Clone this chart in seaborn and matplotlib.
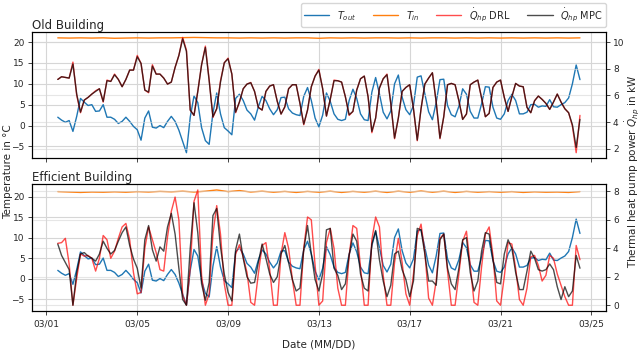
import matplotlib
matplotlib.use("Agg")
import matplotlib.pyplot as plt
import matplotlib.dates as mdates
import pandas as pd
import seaborn as sns

# outdoor temperature in degC, every 4 h from 03/01 12:00
t_out = [
    2.0, 1.3, 0.8, 1.2, -1.4, 2.2,
    6.5, 5.6, 4.8, 5.0, 3.4, 3.5,
    5.0, 2.0, 2.0, 1.5, 0.5, 1.0,
    2.0, 1.0, -0.2, -1.0, -3.5, 1.8,
    3.5, -0.4, -0.6, 0.0, -0.5, 1.0,
    2.2, 1.0, -1.1, -3.8, -6.5, 2.0,
    7.1, 5.5, -0.5, -3.6, -4.5, 3.0,
    7.8, 2.8, -0.5, -1.3, -2.2, 6.5,
    7.5, 6.0, 3.7, 2.8, 1.3, 4.5,
    7.0, 6.0, 4.0, 2.6, 3.8, 6.7,
    6.8, 4.0, 3.0, 2.6, 2.4, 7.0,
    9.1, 6.0, 1.8, -0.3, 2.5, 7.8,
    5.8, 2.8, 1.5, 1.2, 1.5, 6.0,
    8.7, 6.5, 2.8, 1.4, 1.2, 8.0,
    11.5, 7.6, 3.2, 1.6, 3.5, 10.0,
    12.1, 6.8, 3.8, 2.6, 4.8, 11.6,
    11.9, 7.6, 3.3, 1.4, 5.5, 11.0,
    11.1, 4.8, 2.6, 2.1, 4.6, 8.8,
    7.5, 3.4, 1.8, 1.8, 5.2, 9.3,
    9.2, 4.4, 1.8, 1.5, 2.8, 6.0,
    7.5, 6.0, 2.8, 2.8, 3.2, 5.0,
    5.1, 4.4, 4.7, 4.6, 6.2, 4.5,
    4.4, 5.0, 5.5, 6.6, 10.0, 14.5,
    11.0,
]

# indoor temperature in degC, every 12 h
t_in_old = [
    21.0, 20.95, 21.0, 20.95, 21.0, 20.9, 20.95, 21.0, 20.95, 21.0,
    21.0, 21.05, 21.1, 21.05, 21.0, 21.0, 20.95, 21.0, 20.95, 21.0,
    20.95, 21.0, 21.0, 20.9, 21.0, 20.95, 21.0, 20.95, 21.0, 21.0,
    20.95, 21.0, 20.95, 21.0, 21.0, 20.95, 21.0, 20.95, 21.0, 20.95,
    21.0, 20.95, 21.0, 20.95, 21.0, 20.95, 21.0,
]
t_in_eff = [
    21.2, 21.1, 21.0, 21.1, 21.05, 21.15, 21.05, 21.2, 21.1, 21.25,
    21.15, 21.3, 21.1, 21.3, 21.6, 21.2, 21.45, 21.1, 21.3, 21.05,
    21.25, 21.0, 21.25, 21.05, 21.3, 21.0, 21.25, 21.05, 21.3, 21.0,
    21.3, 21.05, 21.35, 21.05, 21.3, 21.0, 21.25, 21.05, 21.2, 21.05,
    21.2, 21.0, 21.15, 21.05, 21.1, 21.0, 21.2,
]

# heat pump power in kW, every 4 h
q_drl_old = [
    7.2, 7.4, 7.35, 7.3, 8.5, 6.0,
    4.7, 5.65, 5.85, 6.1, 6.35, 6.5,
    5.5, 7.15, 7.05, 7.6, 7.2, 6.65,
    7.2, 7.9, 7.9, 9.0, 8.4, 6.4,
    6.2, 8.3, 7.6, 7.6, 7.3, 6.85,
    7.0, 8.1, 9.0, 10.35, 9.4, 4.9,
    4.5, 6.3, 8.3, 9.7, 7.2, 4.35,
    5.0, 7.1, 8.45, 8.8, 7.6, 4.7,
    5.5, 6.5, 6.85, 6.97, 6.3, 5.1,
    4.9, 6.3, 6.7, 6.8, 5.55, 4.6,
    5.14, 6.5, 6.8, 6.8, 5.4, 3.8,
    4.9, 6.65, 7.45, 7.95, 6.5, 4.45,
    5.7, 7.15, 7.1, 7.0, 5.9, 4.5,
    4.8, 6.4, 7.25, 7.45, 5.9, 3.2,
    4.3, 6.55, 7.25, 7.6, 5.4, 2.75,
    4.3, 6.3, 6.6, 6.8, 5.0, 2.6,
    5.0, 6.85, 7.3, 7.7, 5.5, 2.75,
    4.4, 6.8, 6.9, 6.8, 5.6, 4.2,
    4.6, 6.8, 7.0, 7.15, 5.8, 4.4,
    4.65, 6.6, 7.0, 7.15, 5.85, 4.8,
    5.9, 6.9, 6.7, 6.65, 5.1, 4.7,
    5.6, 5.95, 5.7, 5.4, 4.95, 5.5,
    6.1, 5.5, 5.0, 4.7, 3.7, 1.7,
    4.5,
]
q_mpc_old = [
    7.2, 7.4, 7.35, 7.3, 8.35, 6.1,
    4.75, 5.65, 5.85, 6.1, 6.3, 6.5,
    5.55, 7.1, 7.05, 7.55, 7.2, 6.65,
    7.2, 7.9, 7.9, 8.9, 8.4, 6.4,
    6.25, 8.2, 7.6, 7.6, 7.3, 6.85,
    7.0, 8.1, 9.0, 10.25, 9.3, 4.9,
    4.5, 6.3, 8.3, 9.6, 7.1, 4.4,
    5.0, 7.0, 8.45, 8.75, 7.6, 4.75,
    5.5, 6.5, 6.85, 6.95, 6.3, 5.1,
    4.9, 6.3, 6.7, 6.8, 5.55, 4.6,
    5.14, 6.5, 6.8, 6.8, 5.4, 3.85,
    4.9, 6.65, 7.45, 7.9, 6.5, 4.45,
    5.7, 7.1, 7.1, 7.0, 5.9, 4.55,
    4.8, 6.4, 7.25, 7.45, 5.9, 3.3,
    4.3, 6.55, 7.25, 7.55, 5.4, 2.8,
    4.3, 6.3, 6.6, 6.8, 5.0, 2.65,
    5.0, 6.85, 7.3, 7.7, 5.5, 2.8,
    4.4, 6.8, 6.9, 6.8, 5.6, 4.2,
    4.6, 6.8, 7.0, 7.15, 5.8, 4.4,
    4.65, 6.6, 7.0, 7.15, 5.85, 4.8,
    5.9, 6.9, 6.7, 6.65, 5.1, 4.7,
    5.6, 5.95, 5.7, 5.4, 4.95, 5.5,
    6.1, 5.5, 5.0, 4.7, 3.8, 2.1,
    4.2,
]
q_drl_eff = [
    4.35, 4.4, 4.7, 2.9, 0.0, 1.9,
    3.6, 3.45, 3.5, 3.3, 2.4, 3.3,
    4.9, 4.6, 3.3, 3.8, 4.7, 5.5,
    5.75, 4.6, 2.3, 0.8, 0.9, 4.0,
    5.5, 4.6, 3.7, 2.5, 2.4, 4.8,
    6.6, 7.6, 6.0, 0.7, 0.0, 2.6,
    7.3, 8.1, 2.1, 0.0, 0.8, 5.0,
    7.0, 5.0, 1.5, 0.0, 0.0, 3.6,
    4.25, 3.4, 2.3, 0.2, 0.0, 2.2,
    4.2, 4.4, 2.5, 0.0, 0.0, 3.6,
    5.1, 4.0, 1.8, 0.0, 0.0, 4.0,
    6.2, 6.0, 2.8, 0.0, 0.3, 4.4,
    5.4, 4.0, 1.2, 0.0, 0.0, 3.5,
    5.6, 5.4, 2.7, 0.0, 0.0, 4.6,
    6.2, 5.5, 2.1, 0.0, 0.0, 3.0,
    4.7, 3.0, 0.8, 0.0, 2.2, 4.9,
    5.7, 3.7, 0.5, 0.0, 1.7, 4.7,
    5.0, 2.4, 0.0, 0.0, 2.2, 4.5,
    5.2, 2.8, 0.2, 0.0, 2.7, 5.0,
    5.5, 3.5, 0.3, 0.0, 2.0, 4.4,
    4.3, 2.6, 0.4, 0.0, 1.2, 3.4,
    3.5, 2.8, 1.7, 2.1, 3.5, 3.3,
    2.2, 1.4, 0.6, 0.0, 0.0, 4.2,
    3.2,
]
q_mpc_eff = [
    4.3, 3.5, 3.0, 2.5, 0.0, 2.3,
    3.6, 3.7, 3.45, 3.3, 3.1, 3.6,
    4.5, 4.0, 3.6, 3.85, 4.5, 5.1,
    5.5, 4.2, 3.25, 2.6, 1.2, 4.6,
    5.6, 3.9, 3.1, 4.1, 3.8, 5.5,
    6.46, 5.0, 2.6, 0.4, 0.0, 4.0,
    7.2, 5.1, 1.5, 0.35, 1.6, 6.3,
    6.8, 4.1, 2.2, 0.9, 0.3, 3.9,
    5.0, 3.3, 2.0, 1.55, 1.6, 3.0,
    4.3, 3.3, 2.2, 1.6, 2.0, 3.6,
    4.2, 3.0, 1.8, 1.0, 1.2, 3.9,
    5.6, 3.6, 1.8, 1.0, 2.2, 5.3,
    5.4, 2.6, 2.1, 1.1, 1.5, 3.5,
    5.0, 4.5, 2.2, 1.2, 1.0, 4.3,
    5.25, 3.2, 1.7, 0.6, 1.4, 3.6,
    3.8, 2.5, 1.8, 0.6, 1.7, 5.4,
    5.3, 3.6, 1.7, 1.7, 1.4, 4.6,
    5.0, 2.6, 1.5, 1.1, 2.6, 4.6,
    4.75, 2.3, 1.0, 1.7, 3.8, 5.1,
    5.0, 3.2, 1.6, 1.5, 3.6, 4.6,
    4.0, 2.3, 1.1, 1.1, 2.4, 3.8,
    3.3, 2.5, 2.4, 2.5, 2.9, 2.5,
    1.3, 0.4, 1.3, 0.6, 1.0, 3.5,
    2.6,
]

t_start = "2021-03-01 12:00"
times = pd.date_range(t_start, periods=len(t_out), freq="4h")
times_in = pd.date_range(t_start, periods=len(t_in_old), freq="12h")

sns.set_theme(style="ticks", rc={
    "axes.edgecolor": "black",
    "axes.linewidth": 0.8,
    "xtick.labelsize": 6.5,
    "ytick.labelsize": 6.5,
    "xtick.major.size": 3,
    "ytick.major.size": 3,
    "xtick.major.width": 0.6,
    "ytick.major.width": 0.6,
})
plt.rcParams["font.family"] = ["DejaVu Sans"]

fig, axes = plt.subplots(2, 1, figsize=(6.4, 3.52), dpi=100, sharex=True)
fig.subplots_adjust(left=0.0495, right=0.947, top=0.91, bottom=0.1165, hspace=0.203)

panels = [
    ("Old Building", t_in_old, q_drl_old, q_mpc_old),
    ("Efficient Building", t_in_eff, q_drl_eff, q_mpc_eff),
]
lw = 1.0
for ax, (title, t_in, q_drl, q_mpc) in zip(axes, panels):
    ax2 = ax.twinx()
    sns.lineplot(x=times, y=t_out, ax=ax, color="tab:blue", lw=lw, label=r"$T_{out}$", legend=False)
    sns.lineplot(x=times_in, y=t_in, ax=ax, color="tab:orange", lw=lw, label=r"$T_{in}$", legend=False)
    sns.lineplot(x=times, y=q_drl, ax=ax2, color="red", alpha=0.7, lw=lw, label=r"$\dot{Q}_{hp}$ DRL", legend=False)
    sns.lineplot(x=times, y=q_mpc, ax=ax2, color="black", alpha=0.7, lw=lw, label=r"$\dot{Q}_{hp}$ MPC", legend=False)
    ax.grid(True, color="#d6d6d6", lw=0.8)
    ax2.grid(True, color="#d6d6d6", lw=0.8, alpha=0.6)
    ax.set_axisbelow(True)
    ax.set_title(title, loc="left", fontsize=8.5, pad=2)
    ax.set_xlabel("")
    ax.set_ylabel("")
    ax2.set_ylabel("")
    ax.tick_params(axis="y", pad=2)
    ax2.tick_params(axis="y", pad=2)
    if title == "Old Building":
        h1, l1 = ax.get_legend_handles_labels()
        h2, l2 = ax2.get_legend_handles_labels()
        ax2.legend(h1 + h2, l1 + l2, loc="lower right", bbox_to_anchor=(1.0, 1.037), ncol=4,
                   fontsize=7, frameon=True, borderaxespad=0.0, handlelength=2.6,
                   columnspacing=1.7, borderpad=0.35)

axes[1].xaxis.set_major_locator(mdates.DayLocator(bymonthday=[1, 5, 9, 13, 17, 21, 25]))
axes[1].xaxis.set_major_formatter(mdates.DateFormatter("%m/%d"))
axes[1].set_xlabel("Date (MM/DD)", fontsize=7.5, labelpad=8)
axes[1].tick_params(axis="x", pad=3)

fig.text(0.012, 0.513, "Temperature in °C", rotation=90, va="center", ha="center", fontsize=7.5)
fig.text(0.988, 0.513, r"Thermal heat pump power $\dot{Q}_{hp}$ in kW", rotation=90,
         va="center", ha="center", fontsize=7.5)

fig.savefig("out.png", dpi=100)
